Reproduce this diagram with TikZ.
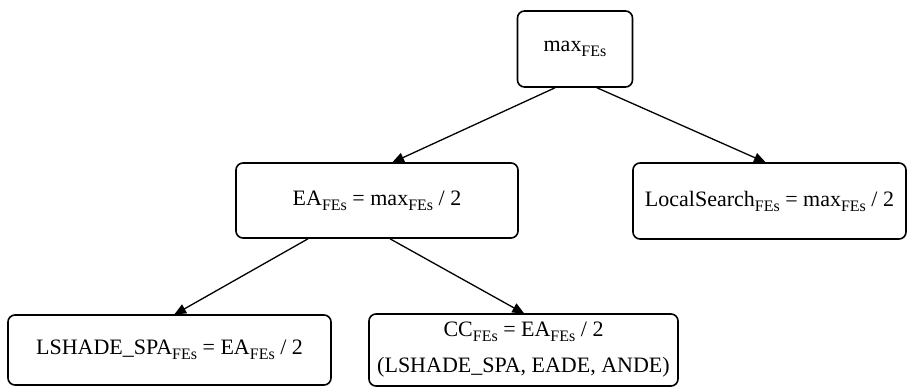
\documentclass[tikz,border=0pt]{standalone}
\usepackage{fontspec}
\setmainfont{Liberation Serif}
\usepackage{tikz}
\usetikzlibrary{arrows.meta, positioning}
\newcommand{\fes}{\raisebox{-5pt}{\fontsize{16}{16}\selectfont FEs}}

\begin{document}
\begin{tikzpicture}[
    x=1pt, y=-1pt,
    >={Triangle[length=12pt, width=10pt]},
    box/.style={draw, rounded corners=7pt, line width=1.6pt, font=\fontsize{22}{26}\selectfont, align=center, inner sep=0pt},
    link/.style={->, line width=1.3pt, shorten >=-1pt},
]
    \path[use as bounding box] (0,0) rectangle (907,387);

    % Budget split
    \node[box, minimum width=115pt, minimum height=76pt] (max) at (575, 49) {max\fes};
    \node[box, minimum width=282pt, minimum height=75pt] (ea) at (377, 200.5) {EA\fes{} = max\fes{} / 2};
    \node[box, minimum width=273pt, minimum height=76pt] (ls) at (769.5, 201) {LocalSearch\fes{} = max\fes{} / 2};

    % EA part
    \node[box, minimum width=323pt, minimum height=70pt] (lshade) at (169.5, 350) {LSHADE\_SPA\fes{} = EA\fes{} / 2};
    \node[box, minimum width=309pt, minimum height=72pt] (cc) at (523.5, 350) {CC\fes{} = EA\fes{} / 2\\[10pt](LSHADE\_SPA, EADE, ANDE)};

    \draw[link] ([xshift=-20pt]max.south) -- ([xshift=16pt]ea.north);
    \draw[link] ([xshift=22pt]max.south) -- ([xshift=-4.5pt]ls.north);
    \draw[link] ([xshift=-69pt]ea.south) -- ([xshift=5.5pt]lshade.north);
    \draw[link] ([xshift=13pt]ea.south) -- (cc.north);
\end{tikzpicture}
\end{document}
